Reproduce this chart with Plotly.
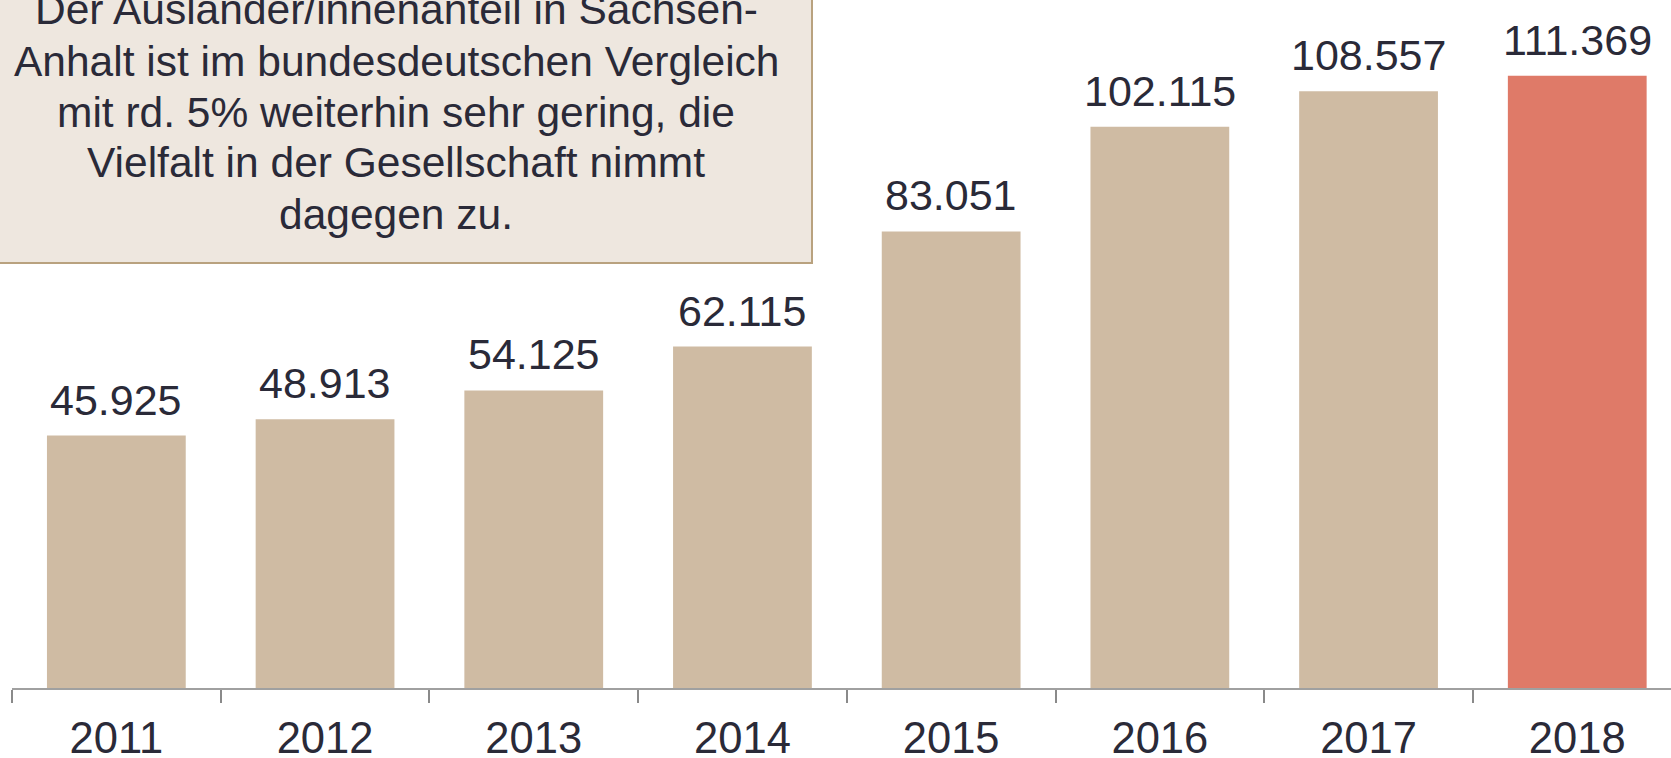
import plotly.graph_objects as go

years = ["2011", "2012", "2013", "2014", "2015", "2016", "2017", "2018"]
values = [45925, 48913, 54125, 62115, 83051, 102115, 108557, 111369]
labels = ["45.925", "48.913", "54.125", "62.115", "83.051", "102.115", "108.557", "111.369"]
bar_colors = ["#cfbba3"] * 7 + ["#df7a68"]

note_lines = [
    "Der Ausländer/innenanteil in Sachsen-",
    "Anhalt ist im bundesdeutschen Vergleich",
    "mit rd. 5% weiterhin sehr gering, die",
    "Vielfalt in der Gesellschaft nimmt",
    "dagegen zu.",
]

W, H = 1671, 758
ML, MR, MT, MB = 12, 0, 0, 70
PW, PH = W - ML - MR, H - MT - MB
TEXT = "#2a2a38"
FONT = "Liberation Sans, Arial, sans-serif"

fig = go.Figure(go.Bar(
    x=years, y=values, marker=dict(color=bar_colors, line=dict(width=0)),
    width=0.665, hoverinfo="skip",
))

for i, (v, lab) in enumerate(zip(values, labels)):
    fig.add_annotation(x=i, y=v, xref="x", yref="y", text=lab, showarrow=False,
                       yanchor="bottom", yshift=10,
                       font=dict(size=43, color=TEXT, family=FONT))

def px_x(p):
    return (p - ML) / PW

def px_y(p):
    return (H - MB - p) / PH

fig.add_shape(type="rect", xref="paper", yref="paper",
              x0=px_x(-20), x1=px_x(812), y0=px_y(263), y1=px_y(-20),
              fillcolor="#eee7df", line=dict(color="#b9a27f", width=2), layer="above")
for j, line in enumerate(note_lines):
    fig.add_annotation(xref="paper", yref="paper", x=px_x(396), y=px_y(26.5 + 51 * j),
                       xanchor="center", yanchor="bottom", yshift=-9, showarrow=False,
                       text=line, align="center",
                       font=dict(size=42.5, color=TEXT, family=FONT))

fig.update_layout(
    width=W, height=H, margin=dict(l=ML, r=MR, t=MT, b=MB, autoexpand=False),
    paper_bgcolor="white", plot_bgcolor="white", showlegend=False,
    bargap=0.335,
    xaxis=dict(type="category", range=[-0.5, -0.5 + PW / 208.7], tickson="boundaries",
               automargin=False,
               ticks="outside", ticklen=13, tickcolor="#8a8a8a", tickwidth=1.5,
               showline=True, linecolor="#a0a0a0", linewidth=1.5, showgrid=False,
               tickfont=dict(size=43.5, color=TEXT, family=FONT), ticklabelstandoff=11),
    yaxis=dict(range=[0, PH / 0.005497], visible=False, showgrid=False, zeroline=False,
               automargin=False),
)

fig.write_html(
    "out.html",
    config={"displayModeBar": False},
    post_script="document.body.style.margin='0';document.body.style.overflow='hidden';",
)
